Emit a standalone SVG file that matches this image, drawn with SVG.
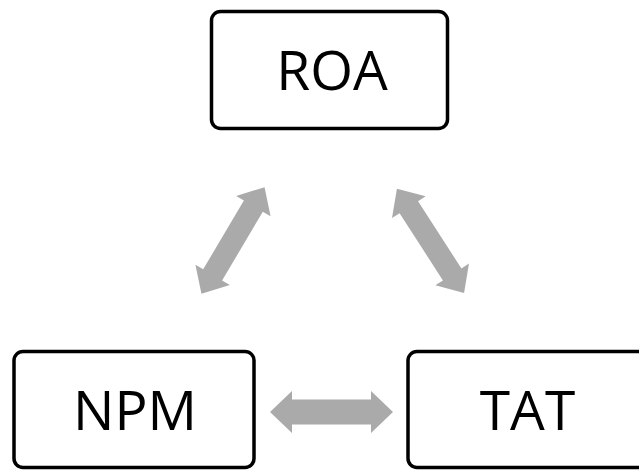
<svg xmlns="http://www.w3.org/2000/svg" width="639" height="471" viewBox="0 0 639 471">
<defs>
<style>
.box{fill:#fff;stroke:#000;stroke-width:3.5}
.lbl{font-family:"Open Sans","Liberation Sans",sans-serif;font-size:55px;fill:#000;text-anchor:middle}
.arr{fill:#aaaaaa}
</style>
<polygon id="dbl" points="-61.5,0 -39.5,-21 -39.5,-12.5 39.5,-12.5 39.5,-21 61.5,0 39.5,21 39.5,12.5 -39.5,12.5 -39.5,21"/>
<polygon id="dbld" points="-62,0 -40,-20 -40,-11 40,-11 40,-20 62,0 40,20 40,11 -40,11 -40,20"/>
</defs>
<rect width="639" height="471" fill="#fff"/>
<g id="connectors" class="arr">
<use href="#dbld" transform="translate(233,240.5) rotate(-59.4)"/>
<use href="#dbld" transform="translate(430.5,240.8) rotate(57.2)"/>
<use href="#dbl" transform="translate(331.5,412)"/>
</g>
<g id="roa">
<rect class="box" x="211.5" y="11.5" width="236" height="117" rx="9"/>
<text class="lbl" x="332" y="90">ROA</text>
</g>
<g id="npm">
<rect class="box" x="14" y="351.5" width="240" height="116" rx="9"/>
<text class="lbl" x="135" y="430">NPM</text>
</g>
<g id="tat">
<rect class="box" x="408" y="351.5" width="240" height="116" rx="9"/>
<text class="lbl" x="527.5" y="430">TAT</text>
</g>
</svg>
